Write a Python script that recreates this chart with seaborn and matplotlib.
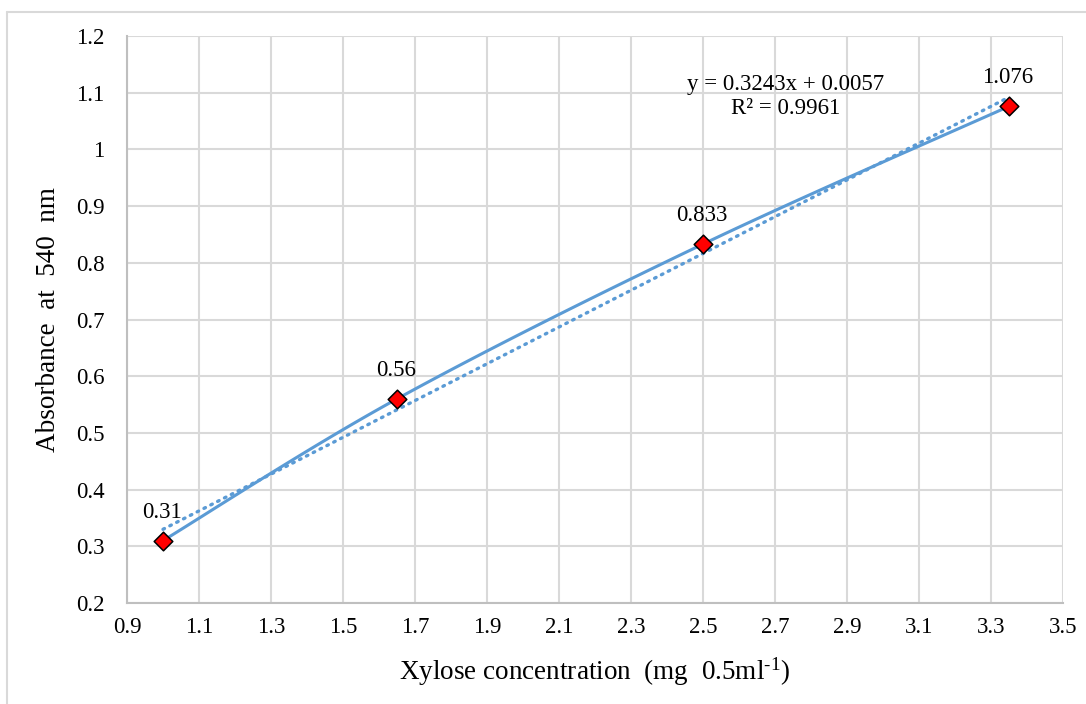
import numpy as np
import pandas as pd
import matplotlib
matplotlib.use("Agg")
import matplotlib.pyplot as plt
import seaborn as sns
from matplotlib.lines import Line2D

# ---- data ----
x_conc = [1.0, 1.65, 2.5, 3.35]
absorb = [0.31, 0.56, 0.833, 1.076]
point_labels = ["0.31", "0.56", "0.833", "1.076"]
slope = 0.3243
intercept = 0.0057
r2 = 0.9961
x_ticks = [0.9, 1.1, 1.3, 1.5, 1.7, 1.9, 2.1, 2.3, 2.5, 2.7, 2.9, 3.1, 3.3, 3.5]
y_ticks = [0.2, 0.3, 0.4, 0.5, 0.6, 0.7, 0.8, 0.9, 1.0, 1.1, 1.2]

sns.set_theme(style="whitegrid")
plt.rcParams['font.family'] = ['Liberation Serif', 'DejaVu Serif']
plt.rcParams['mathtext.fontset'] = 'custom'
plt.rcParams['mathtext.rm'] = 'Liberation Serif'
plt.rcParams['mathtext.it'] = 'Liberation Serif:italic'

fig = plt.figure(figsize=(10.86, 7.04), dpi=100)
ax = fig.add_axes([127/1086, 1 - 603/704, (1063-127)/1086, (603-36)/704])

line_color = "#5B9BD5"
grid_color = "#D9D9D9"

# smoothed line (Excel-like Catmull-Rom bezier)
def smooth(xs, ys, n=40):
    xs = np.asarray(xs, float); ys = np.asarray(ys, float)
    P = np.column_stack([xs, ys])
    out = []
    for i in range(len(P) - 1):
        p0 = P[i - 1] if i > 0 else P[i]
        p1 = P[i]; p2 = P[i + 1]
        p3 = P[i + 2] if i + 2 < len(P) else P[i + 1]
        c1 = p1 + (p2 - p0) / 6.0
        c2 = p2 - (p3 - p1) / 6.0
        t = np.linspace(0, 1, n)[:, None]
        b = (1-t)**3*p1 + 3*(1-t)**2*t*c1 + 3*(1-t)*t**2*c2 + t**3*p2
        out.append(b if i == 0 else b[1:])
    return np.vstack(out)

sm = smooth(x_conc, absorb)
ax.plot(sm[:, 0], sm[:, 1], color=line_color, lw=2.2, zorder=3, solid_capstyle='round')

# trendline
tx = np.array([min(x_conc), max(x_conc)])
ax.plot(tx, slope * tx + intercept, color=line_color, lw=2.4,
        linestyle=(0, (0.5, 1.8)), dash_capstyle='round', zorder=3)

df = pd.DataFrame({"x": x_conc, "y": absorb})
sns.scatterplot(data=df, x="x", y="y", marker="D", s=90, color="#FF0000",
                edgecolor="black", linewidth=1.1, ax=ax, zorder=5, legend=False)

for xv, yv, lab in zip(x_conc, absorb, point_labels):
    ax.annotate(lab, (xv, yv), xytext=(-1, 20.5), textcoords="offset points",
                ha="center", va="center", fontsize=16.5, color="#000000")

ax.text(2.73, 1.094, "y = 0.3243x + 0.0057\nR\u00b2 = 0.9961", ha="center", va="center",
        fontsize=16.5, linespacing=1.2, color="#000000")

ax.set_xlim(0.9, 3.5)
ax.set_ylim(0.2, 1.2)
ax.set_xticks(x_ticks)
ax.set_xticklabels([f"{v:g}" for v in x_ticks])
ax.set_yticks(y_ticks)
ax.set_yticklabels([f"{v:g}" for v in y_ticks])
ax.tick_params(axis='both', length=0, labelsize=16.5, colors="#000000")
ax.tick_params(axis='y', pad=16)
ax.tick_params(axis='x', pad=10)
ax.grid(True, color=grid_color, lw=1.5)
for side in ["top", "right"]:
    ax.spines[side].set_visible(False)
for side in ["left", "bottom"]:
    ax.spines[side].set_color("#BFBFBF")
    ax.spines[side].set_linewidth(1.5)
ax.set_facecolor("white")

ax.set_xlabel("Xylose concentration  (mg  0.5ml$^{\\text{-1}}$)", fontsize=19.5, labelpad=13, color="#000000")
ax.set_ylabel("Absorbance  at  540  nm", fontsize=19.5, labelpad=11, color="#000000")
ax.set_axisbelow(True)

# outer chart border (top and left visible)
fig.add_artist(Line2D([7/1086, 1.0], [1 - 12/704, 1 - 12/704], color="#D9D9D9", lw=1.5, transform=fig.transFigure))
fig.add_artist(Line2D([7/1086, 7/1086], [0.0, 1 - 12/704], color="#D9D9D9", lw=1.5, transform=fig.transFigure))

fig.savefig("out.png", dpi=100, facecolor="white")
